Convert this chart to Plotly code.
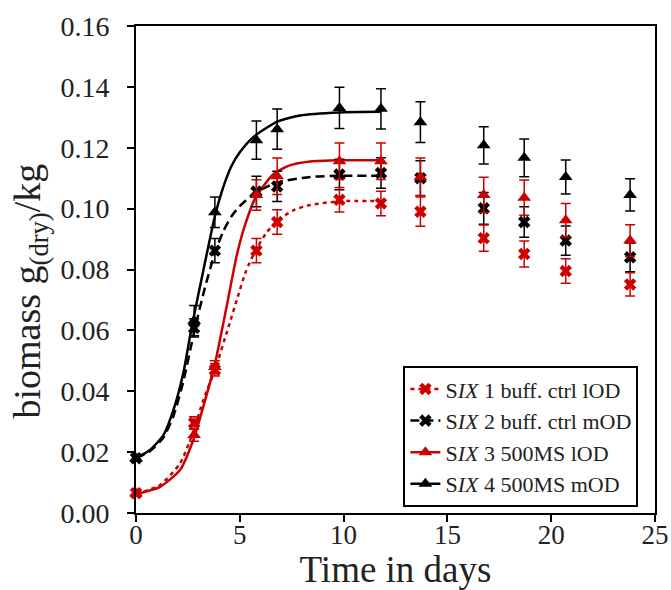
import plotly.graph_objects as go

# ---------------- data ----------------
days = [0, 2.8, 3.8, 5.8, 6.8, 9.8, 11.8, 13.7, 16.75, 18.7, 20.7, 23.8]

s1_vals = [0.0065, 0.0296, 0.047, 0.0862, 0.0956, 0.1029, 0.1017, 0.099, 0.0903, 0.0851, 0.0795, 0.0751]
s1_err  = [0.001, 0.002, 0.002, 0.004, 0.004, 0.004, 0.004, 0.0048, 0.0043, 0.0043, 0.0040, 0.0038]
s2_vals = [0.018, 0.0608, 0.0862, 0.1056, 0.1073, 0.1112, 0.1117, 0.110, 0.1001, 0.0956, 0.0895, 0.084]
s2_err  = [0.001, 0.003, 0.004, 0.005, 0.005, 0.005, 0.005, 0.0057, 0.0052, 0.0050, 0.0048, 0.0047]
s3_vals = [0.0065, 0.0256, 0.048, 0.1045, 0.1106, 0.1156, 0.1156, 0.1104, 0.1045, 0.1036, 0.0962, 0.0895]
s3_err  = [0.001, 0.002, 0.002, 0.005, 0.006, 0.006, 0.006, 0.0062, 0.0058, 0.0058, 0.0055, 0.0052]
s4_vals = [0.018, 0.0632, 0.0988, 0.1225, 0.1261, 0.1331, 0.1328, 0.1284, 0.1208, 0.1167, 0.1104, 0.1045]
s4_err  = [0.001, 0.005, 0.005, 0.0063, 0.0066, 0.0068, 0.0066, 0.0067, 0.0061, 0.0062, 0.0056, 0.0053]

fit1_days = [0, 1.16, 2.12, 2.76, 3.24, 3.8, 4.45, 4.9, 5.3, 5.8, 6.3, 6.8, 7.6, 8.4, 9.8, 11.8]
fit1_vals = [0.0062, 0.0092, 0.0163, 0.0267, 0.0371, 0.047, 0.061, 0.071, 0.0795, 0.0868, 0.0922, 0.096, 0.0995, 0.1012, 0.1024, 0.1025]
fit2_days = [0, 0.67, 1.32, 1.8, 2.28, 2.8, 3.3, 3.8, 4.2, 4.6, 5.0, 5.7, 6.8, 8.4, 9.8, 11.8]
fit2_vals = [0.018, 0.0203, 0.0248, 0.0318, 0.0432, 0.0595, 0.0735, 0.0855, 0.0925, 0.0975, 0.1008, 0.1050, 0.1086, 0.1104, 0.1108, 0.1108]
fit3_days = [0, 1.16, 2.12, 2.76, 3.24, 3.8, 4.37, 4.85, 5.2, 5.75, 6.6, 7.4, 8.4, 9.8, 11.8]
fit3_vals = [0.0062, 0.0086, 0.0141, 0.024, 0.0349, 0.0490, 0.068, 0.0845, 0.0935, 0.1035, 0.1112, 0.1142, 0.1155, 0.1159, 0.1159]
fit4_days = [0, 0.67, 1.32, 1.8, 2.28, 2.68, 3.1, 3.45, 3.8, 4.2, 4.6, 5.0, 5.65, 6.78, 7.9, 9.8, 11.8]
fit4_vals = [0.018, 0.0207, 0.0256, 0.0338, 0.046, 0.061, 0.075, 0.0865, 0.0975, 0.1070, 0.1140, 0.1185, 0.1235, 0.1285, 0.1306, 0.1316, 0.1318]

legend_names = [
    "S<i>IX</i> 1 buff. ctrl lOD",
    "S<i>IX</i> 2 buff. ctrl mOD",
    "S<i>IX</i> 3 500MS lOD",
    "S<i>IX</i> 4 500MS mOD",
]
x_ticks = [0, 5, 10, 15, 20, 25]
y_ticks = [0.00, 0.02, 0.04, 0.06, 0.08, 0.10, 0.12, 0.14, 0.16]
x_title = "Time in days"
y_title = "biomass g<sub>(dry)</sub>/kg"

# ---------------- styling ----------------
RED = "#cc0000"
BLACK = "#000000"
FONT = "Liberation Serif"

series = [
    dict(vals=s1_vals, err=s1_err, fx=fit1_days, fy=fit1_vals, color=RED, sym="x", dash="4px,4px", size=11),
    dict(vals=s2_vals, err=s2_err, fx=fit2_days, fy=fit2_vals, color=BLACK, sym="x", dash="9px,5px", size=11),
    dict(vals=s3_vals, err=s3_err, fx=fit3_days, fy=fit3_vals, color=RED, sym="triangle-up", dash="solid", size=12),
    dict(vals=s4_vals, err=s4_err, fx=fit4_days, fy=fit4_vals, color=BLACK, sym="triangle-up", dash="solid", size=12),
]

fig = go.Figure()

# fitted curves
for s in series:
    fig.add_trace(go.Scatter(
        x=s["fx"], y=s["fy"], mode="lines",
        line=dict(color=s["color"], width=2.5, dash=s["dash"], shape="spline", smoothing=0.6),
        showlegend=False, hoverinfo="skip", cliponaxis=False,
    ))

# data points with error bars (black first, red on top)
for s in [series[1], series[3], series[0], series[2]]:
    fig.add_trace(go.Scatter(
        x=days, y=s["vals"], mode="markers",
        marker=dict(symbol=s["sym"], size=s["size"], color=s["color"], line=dict(width=0)),
        error_y=dict(type="data", array=s["err"], visible=True, color=s["color"], thickness=1.5, width=5),
        showlegend=False, cliponaxis=False,
    ))

# legend entries
for s, name in zip(series, legend_names):
    fig.add_trace(go.Scatter(
        x=[None], y=[None], mode="lines+markers", name=name,
        line=dict(color=s["color"], width=2.5, dash=s["dash"]),
        marker=dict(symbol=s["sym"], size=s["size"], color=s["color"], line=dict(width=0)),
    ))

axis_common = dict(
    showline=True, linecolor="black", linewidth=2, mirror=True,
    ticks="outside", ticklen=7, tickwidth=2, tickcolor="black",
    showgrid=False, zeroline=False, automargin=False,
)

fig.update_xaxes(
    range=[0, 25], tickvals=x_ticks, ticktext=[str(v) for v in x_ticks],
    tickfont=dict(family=FONT, size=27, color="#222"),
    ticklabelstandoff=-10,
    title=dict(text=x_title, font=dict(family=FONT, size=37, color="#222"), standoff=4),
    **axis_common,
)
fig.update_yaxes(
    range=[0, 0.16], tickvals=y_ticks, ticktext=[f"{v:.2f}" for v in y_ticks],
    tickfont=dict(family=FONT, size=28, color="#222"),
    ticklabelstandoff=12,
    **axis_common,
)

fig.add_annotation(
    text=y_title, xref="paper", yref="paper", x=-0.204, y=0.455,
    xanchor="center", yanchor="middle", textangle=-90, showarrow=False,
    font=dict(family=FONT, size=38, color="#222"),
)

fig.update_layout(
    template="none",
    width=671, height=590,
    margin=dict(l=136, r=16, t=26, b=77, autoexpand=False),
    plot_bgcolor="white", paper_bgcolor="white",
    legend=dict(
        x=0.968, y=0.012, xanchor="right", yanchor="bottom",
        bordercolor="black", borderwidth=2, bgcolor="white",
        font=dict(family=FONT, size=22, color="#222"),
        itemwidth=30, tracegroupgap=0,
    ),
)

fig.write_html("out.html", config={"displayModeBar": False},
               post_script="document.body.style.margin='0px';")
